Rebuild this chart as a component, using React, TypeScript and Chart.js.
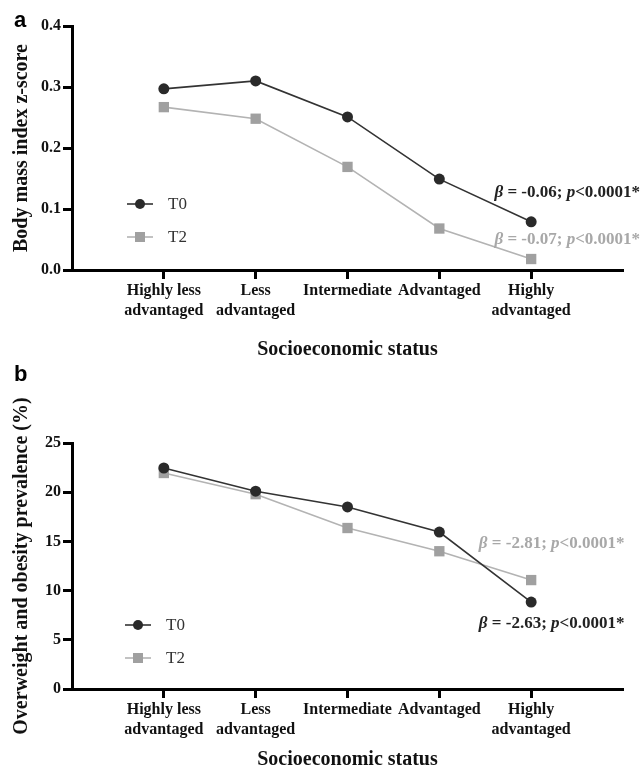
import React, { useEffect, useRef } from 'react';
import { Chart, registerables } from 'chart.js';

Chart.register(...registerables);

// ---------- data ----------
const categoryLabels: string[][] = [
  ['Highly less', 'advantaged'],
  ['Less', 'advantaged'],
  ['Intermediate'],
  ['Advantaged'],
  ['Highly', 'advantaged'],
];
const categoryPositions = [1, 2, 3, 4, 5];
const seriesNames = ['T0', 'T2'];

const bmiT0 = [0.297, 0.31, 0.251, 0.149, 0.079];
const bmiT2 = [0.267, 0.248, 0.169, 0.068, 0.018];
const bmiTicks = [0, 0.1, 0.2, 0.3, 0.4];

const prevT0 = [22.46, 20.1, 18.5, 15.95, 8.84];
const prevT2 = [21.95, 19.8, 16.36, 14.0, 11.07];
const prevTicks = [0, 5, 10, 15, 20, 25];

const bmiBetas = ['-0.06', '-0.07'];
const prevBetas = ['-2.63', '-2.81'];
const pText = '<0.0001*';

// ---------- styles ----------
const SERIF = '"Liberation Serif", "Times New Roman", serif';
const SANS = '"Liberation Sans", Arial, sans-serif';
const DARK = '#333333';
const DARK_PT = '#2a2a2a';
const GRAY_LINE = '#b3b3b3';
const GRAY_PT = '#a0a0a0';
const GRAY_TEXT = '#a8a8a8';

type PanelCfg = {
  letter: string;
  letterY: number;
  yTitle: string;
  yMin: number;
  yMax: number;
  yTicks: number[];
  yDecimals: number;
  t0: number[];
  t2: number[];
  betas: string[];
  betaX: number; // in x-scale value units
  betaY: number[]; // in y-scale value units [T0, T2]
  legendDx: number;
  legendDy: number;
  padTop: number;
  xHeight: number;
  titlePadBottom: number;
};

const drawAnnot = (ctx: CanvasRenderingContext2D, x: number, y: number, beta: string, color: string) => {
  const parts = [
    { t: '\u03B2', it: true },
    { t: ' = ' + beta + '; ', it: false },
    { t: 'p', it: true },
    { t: pText, it: false },
  ];
  ctx.save();
  ctx.fillStyle = color;
  ctx.textAlign = 'left';
  ctx.textBaseline = 'alphabetic';
  let cx = x;
  for (const p of parts) {
    ctx.font = (p.it ? 'italic ' : '') + 'bold 17px ' + SERIF;
    ctx.fillText(p.t, cx, y);
    cx += ctx.measureText(p.t).width;
  }
  ctx.restore();
};

const panelPlugin = {
  id: 'panelDecor',
  afterDatasetsDraw(chart: any, _args: any, opts: any) {
    const ctx: CanvasRenderingContext2D = chart.ctx;
    const cfg: PanelCfg = opts.cfg;
    const { left, top } = chart.chartArea;
    const xs = chart.scales.x;
    const ys = chart.scales.y;
    // panel letter
    ctx.save();
    ctx.fillStyle = '#000';
    ctx.font = 'bold 22px ' + SANS;
    ctx.textBaseline = 'alphabetic';
    ctx.textAlign = 'left';
    ctx.fillText(cfg.letter, 14, cfg.letterY);
    ctx.restore();

    // legend
    chart.data.datasets.forEach((ds: any, i: number) => {
      const lx = left + cfg.legendDx;
      const ly = top + cfg.legendDy + i * 33;
      ctx.save();
      ctx.strokeStyle = ds.borderColor;
      ctx.lineWidth = ds.borderWidth;
      ctx.beginPath();
      ctx.moveTo(lx, ly);
      ctx.lineTo(lx + 26, ly);
      ctx.stroke();
      ctx.fillStyle = ds.pointBackgroundColor;
      if (ds.pointStyle === 'rect') {
        ctx.fillRect(lx + 13 - 5, ly - 5, 10, 10);
      } else {
        ctx.beginPath();
        ctx.arc(lx + 13, ly, 5, 0, Math.PI * 2);
        ctx.fill();
      }
      ctx.fillStyle = DARK;
      ctx.font = '17px ' + SERIF;
      ctx.textBaseline = 'middle';
      ctx.textAlign = 'left';
      ctx.fillText(ds.label, lx + 41, ly + 1);
      ctx.restore();
    });

    // beta annotations
    cfg.betas.forEach((b, i) => {
      drawAnnot(ctx, xs.getPixelForValue(cfg.betaX), ys.getPixelForValue(cfg.betaY[i]), b, i === 0 ? '#222' : GRAY_TEXT);
    });
  },
};

const buildConfig = (cfg: PanelCfg): any => ({
  type: 'line',
  data: {
    datasets: [
      {
        label: seriesNames[0],
        data: categoryPositions.map((x, i) => ({ x, y: cfg.t0[i] })),
        borderColor: DARK,
        borderWidth: 1.6,
        pointStyle: 'circle',
        pointRadius: 5.5,
        pointBackgroundColor: DARK_PT,
        pointBorderColor: DARK_PT,
        pointBorderWidth: 0,
        tension: 0,
      },
      {
        label: seriesNames[1],
        data: categoryPositions.map((x, i) => ({ x, y: cfg.t2[i] })),
        borderColor: GRAY_LINE,
        borderWidth: 1.6,
        pointStyle: 'rect',
        pointRadius: 7.3,
        pointBackgroundColor: GRAY_PT,
        pointBorderColor: GRAY_PT,
        pointBorderWidth: 0,
        tension: 0,
      },
    ],
  },
  options: {
    animation: false,
    responsive: false,
    devicePixelRatio: 1,
    layout: { padding: { top: cfg.padTop, right: 17, left: 0, bottom: 0 } },
    plugins: {
      legend: { display: false },
      tooltip: { enabled: false },
      panelDecor: { cfg },
    },
    scales: {
      x: {
        type: 'linear',
        min: 0,
        max: 6,
        afterBuildTicks: (s: any) => {
          s.ticks = categoryPositions.map((v) => ({ value: v }));
        },
        afterFit: (s: any) => {
          s.height = cfg.xHeight;
        },
        grid: {
          drawOnChartArea: false,
          drawTicks: true,
          tickLength: 9,
          tickWidth: 3,
          tickColor: '#000',
        },
        border: { display: true, width: 3, color: '#000' },
        ticks: {
          autoSkip: false,
          maxRotation: 0,
          padding: 2,
          color: '#111',
          font: { family: SERIF, size: 16, weight: 'bold', lineHeight: 1.25 },
          callback: (v: number) => categoryLabels[categoryPositions.indexOf(v)] ?? '',
        },
        title: {
          display: true,
          text: 'Socioeconomic status',
          color: '#111',
          font: { family: SERIF, size: 20, weight: 'bold', lineHeight: 1.2 },
          padding: { top: 0, bottom: cfg.titlePadBottom },
        },
      },
      y: {
        type: 'linear',
        min: cfg.yMin,
        max: cfg.yMax,
        afterBuildTicks: (s: any) => {
          s.ticks = cfg.yTicks.map((v) => ({ value: v }));
        },
        afterFit: (s: any) => {
          s.width = 72;
        },
        grid: {
          drawOnChartArea: false,
          drawTicks: true,
          tickLength: 9,
          tickWidth: 3,
          tickColor: '#000',
        },
        border: { display: true, width: 3, color: '#000' },
        ticks: {
          padding: 2,
          color: '#111',
          font: { family: SERIF, size: 16, weight: 'bold' },
          callback: (v: number) => v.toFixed(cfg.yDecimals),
        },
        title: {
          display: true,
          text: cfg.yTitle,
          color: '#111',
          font: { family: SERIF, size: 20, weight: 'bold', lineHeight: 1.2 },
          padding: { top: 10, bottom: 0 },
        },
      },
    },
  },
  plugins: [panelPlugin],
});

const SPLIT = 362;

const panelA: PanelCfg = {
  letter: 'a',
  letterY: 27,
  yTitle: 'Body mass index z-score',
  yMin: 0,
  yMax: 0.4,
  yTicks: bmiTicks,
  yDecimals: 1,
  t0: bmiT0,
  t2: bmiT2,
  betas: bmiBetas,
  betaX: 4.6,
  betaY: [0.12, 0.043],
  legendDx: 55,
  legendDy: 178,
  padTop: 26,
  xHeight: SPLIT - 270,
  titlePadBottom: 0,
};

const panelB: PanelCfg = {
  letter: 'b',
  letterY: 381 - SPLIT,
  yTitle: 'Overweight and obesity prevalence (%)',
  yMin: 0,
  yMax: 25,
  yTicks: prevTicks,
  yDecimals: 0,
  t0: prevT0,
  t2: prevT2,
  betas: prevBetas,
  betaX: 4.43,
  betaY: [6.2, 14.33],
  legendDx: 53,
  legendDy: 182,
  padTop: 443 - SPLIT,
  xHeight: 87,
  titlePadBottom: 4,
};

function Panel({ cfg, top, height }: { cfg: PanelCfg; top: number; height: number }) {
  const ref = useRef<HTMLCanvasElement | null>(null);
  useEffect(() => {
    if (!ref.current) return;
    const chart = new Chart(ref.current, buildConfig(cfg));
    return () => chart.destroy();
  }, [cfg]);
  return (
    <canvas
      ref={ref}
      width={640}
      height={height}
      style={{ position: 'absolute', left: 0, top, width: 640, height }}
    />
  );
}

export default function App() {
  return (
    <div
      style={{
        position: 'fixed',
        left: 0,
        top: 0,
        width: 640,
        height: 776,
        background: '#fff',
        overflow: 'hidden',
      }}
    >
      <Panel cfg={panelA} top={0} height={SPLIT} />
      <Panel cfg={panelB} top={SPLIT} height={776 - SPLIT} />
    </div>
  );
}
